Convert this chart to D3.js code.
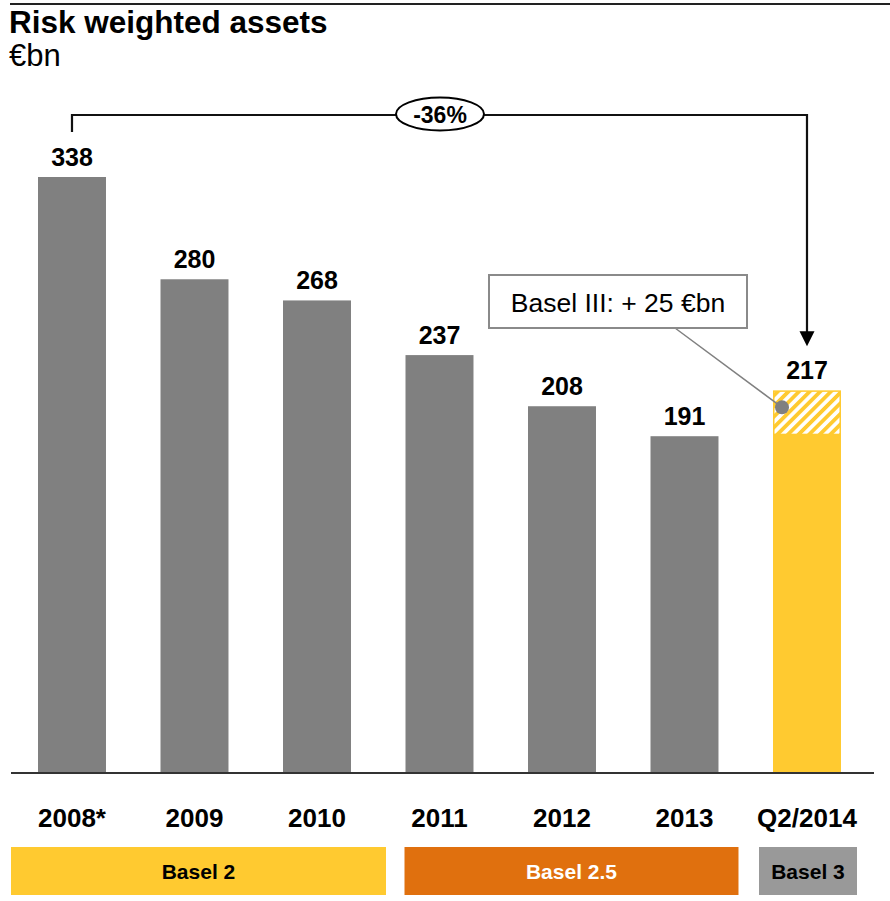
<!DOCTYPE html>
<html>
<head>
<meta charset="utf-8">
<script src="https://cdn.jsdelivr.net/npm/d3@7"></script>
<style>
  html, body { margin: 0; padding: 0; background: #fff; }
  svg { display: block; font-family: "Liberation Sans", Arial, sans-serif; }
</style>
</head>
<body>
<div id="chart"></div>
<script>
// ---- data ----
const categories = ["2008*", "2009", "2010", "2011", "2012", "2013", "Q2/2014"];
const values = [338, 280, 268, 237, 208, 191, 217];
const basel3Increment = 25;           // hatched part of the Q2/2014 bar
const changeLabel = "-36%";
const calloutText = "Basel III: + 25 €bn";
const regimeLabels = ["Basel 2", "Basel 2.5", "Basel 3"];
const regimeFirst = ["2008*", "2011", "Q2/2014"];
const regimeLast = ["2010", "2013", "Q2/2014"];

// ---- layout ----
const W = 890, H = 901;
const baseY = 773;
const grey = "#808080", yellow = "#FFCA30", orange = "#E0700E", lightGrey = "#999999";

const svg = d3.select("#chart").append("svg").attr("width", W).attr("height", H);

const step = 122.5;
const x = d3.scaleBand().domain(categories)
  .range([38 - 0.6 * step, 38 - 0.6 * step + step * (categories.length - 0.445 + 1.2)])
  .paddingInner(0.445).paddingOuter(0.6);
const y = d3.scaleLinear().domain([0, 338]).range([baseY, 177]);
const bw = x.bandwidth();

// hatch pattern
const defs = svg.append("defs");
const pat = defs.append("pattern").attr("id", "hatch").attr("patternUnits", "userSpaceOnUse")
  .attr("width", 7.5).attr("height", 7.5).attr("patternTransform", "rotate(45)");
pat.append("rect").attr("width", 7.5).attr("height", 7.5).attr("fill", "#fff");
pat.append("rect").attr("width", 3.8).attr("height", 7.5).attr("fill", yellow);

// top rule
svg.append("line").attr("x1", 10).attr("x2", W).attr("y1", 4).attr("y2", 4)
  .attr("stroke", "#222").attr("stroke-width", 2);

// title
svg.append("text").attr("x", 9).attr("y", 33).attr("font-size", 31.5).attr("font-weight", "bold")
  .attr("fill", "#000").text("Risk weighted assets");
svg.append("text").attr("x", 9).attr("y", 66).attr("font-size", 31).attr("fill", "#000").text("€bn");

// bars
const last = categories.length - 1;
svg.selectAll("rect.bar").data(values).enter().append("rect")
  .attr("class", "bar")
  .attr("x", (d, i) => x(categories[i]))
  .attr("width", bw)
  .attr("y", (d, i) => i === last ? y(d - basel3Increment) : y(d))
  .attr("height", (d, i) => baseY - (i === last ? y(d - basel3Increment) : y(d)))
  .attr("fill", (d, i) => i === last ? yellow : grey);

// hatched Basel III part
const lastVal = values[last];
svg.append("rect")
  .attr("x", x(categories[last]) + 0.75)
  .attr("y", y(lastVal) + 0.75)
  .attr("width", bw - 1.5)
  .attr("height", y(lastVal - basel3Increment) - y(lastVal) - 0.75)
  .attr("fill", "url(#hatch)")
  .attr("stroke", yellow).attr("stroke-width", 1.5);

// value labels
svg.selectAll("text.val").data(values).enter().append("text")
  .attr("class", "val")
  .attr("x", (d, i) => x(categories[i]) + bw / 2)
  .attr("y", d => y(d) - 11)
  .attr("text-anchor", "middle").attr("font-size", 25).attr("font-weight", "bold")
  .text(d => d);

// baseline axis
const xAxis = d3.axisBottom(x).tickSize(0).tickPadding(0);
const ax = svg.append("g").attr("transform", `translate(0,${baseY})`).call(xAxis);
ax.select(".domain").attr("d", `M11,0H874`).attr("stroke", "#333").attr("stroke-width", 2);
ax.selectAll(".tick text").attr("y", 54).attr("dy", null)
  .attr("font-size", 26).attr("font-weight", "bold").attr("fill", "#000")
  .attr("font-family", "'Liberation Sans', Arial, sans-serif");

// regime boxes
const boxPad = [[27, 35], [1, 20], [14, 16]];
const boxes = regimeLabels.map((l, i) => ({
  label: l,
  x0: x(regimeFirst[i]) - boxPad[i][0],
  x1: x(regimeLast[i]) + bw + boxPad[i][1],
  fill: [yellow, orange, lightGrey][i],
  tc: ["#000", "#fff", "#000"][i]
}));
const bg = svg.selectAll("g.regime").data(boxes).enter().append("g").attr("class", "regime");
bg.append("rect").attr("x", d => d.x0).attr("width", d => d.x1 - d.x0)
  .attr("y", 847).attr("height", 48).attr("fill", d => d.fill);
bg.append("text").attr("x", d => (d.x0 + d.x1) / 2).attr("y", 879)
  .attr("text-anchor", "middle").attr("font-size", 21).attr("font-weight", "bold")
  .attr("fill", d => d.tc).text(d => d.label);

// -36% bracket
const xa = x(categories[0]) + bw / 2, xb = x(categories[last]) + bw / 2;
const yBr = 115;
const yLeft = y(values[0]) - 45, yTip = y(lastVal) - 44;
svg.append("path")
  .attr("d", `M${xa},${yLeft}V${yBr}H${xb}V${yTip - 14}`)
  .attr("fill", "none").attr("stroke", "#111").attr("stroke-width", 2.2);
svg.append("path")
  .attr("d", `M${xb - 7.5},${yTip - 15}L${xb + 7.5},${yTip - 15}L${xb},${yTip}Z`)
  .attr("fill", "#000");
const ex = 440;
svg.append("ellipse").attr("cx", ex).attr("cy", yBr - 1).attr("rx", 44).attr("ry", 16.5)
  .attr("fill", "#fff").attr("stroke", "#000").attr("stroke-width", 2);
svg.append("text").attr("x", ex).attr("y", yBr + 8).attr("text-anchor", "middle")
  .attr("font-size", 23).attr("font-weight", "bold").text(changeLabel);

// callout
const cb = { x: 489, y: 275, w: 258, h: 53 };
const dotX = x(categories[last]) + 9, dotY = y(lastVal) + 17;
svg.append("line").attr("x1", 675).attr("y1", cb.y + cb.h).attr("x2", dotX).attr("y2", dotY)
  .attr("stroke", "#808080").attr("stroke-width", 1.5);
svg.append("circle").attr("cx", dotX).attr("cy", dotY).attr("r", 7).attr("fill", "#808080");
svg.append("rect").attr("x", cb.x).attr("y", cb.y).attr("width", cb.w).attr("height", cb.h)
  .attr("fill", "#fff").attr("stroke", "#8a8a8a").attr("stroke-width", 2);
svg.append("text").attr("x", cb.x + cb.w / 2).attr("y", cb.y + 37).attr("text-anchor", "middle")
  .attr("font-size", 26.5).attr("fill", "#000").text(calloutText);
</script>
</body>
</html>
